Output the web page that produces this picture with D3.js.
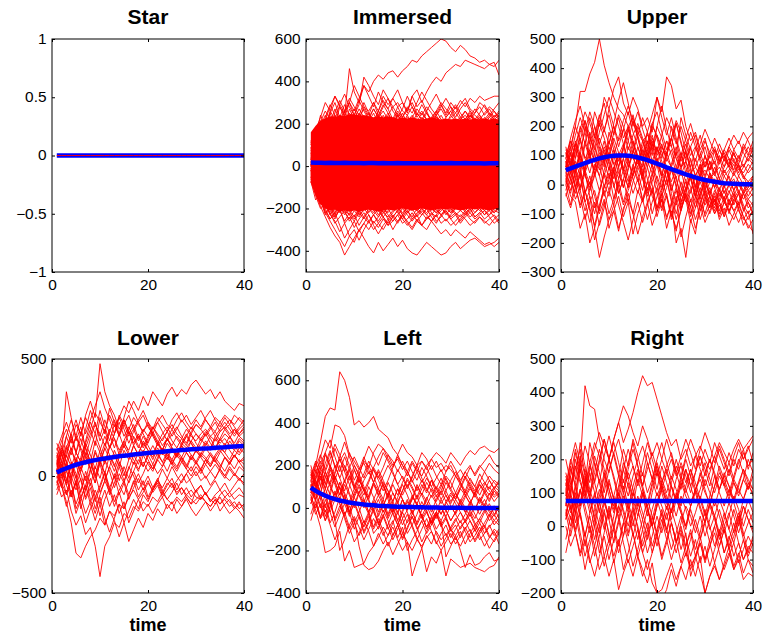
<!DOCTYPE html>
<html>
<head>
<meta charset="utf-8">
<script src="https://cdn.jsdelivr.net/npm/d3@7"></script>
<style>
  body { margin: 0; background: #fff; }
  text { font-family: "Liberation Sans", Arial, Helvetica, sans-serif; }
</style>
</head>
<body>
<div id="chart"></div>
<script>
// time steps
const time = [1,2,3,4,5,6,7,8,9,10,11,12,13,14,15,16,17,18,19,20,21,22,23,24,25,26,27,28,29,30,31,32,33,34,35,36,37,38,39,40]
const xTicks = [0, 20, 40]

const starTicks = [-1, -0.5, 0, 0.5, 1]
const immersedTicks = [-400, -200, 0, 200, 400, 600]
const upperTicks = [-300, -200, -100, 0, 100, 200, 300, 400, 500]
const lowerTicks = [-500, 0, 500]
const leftTicks = [-400, -200, 0, 200, 400, 600]
const rightTicks = [-200, -100, 0, 100, 200, 300, 400, 500]

// blue mean curves
const starMean = [0,0,0,0,0,0,0,0,0,0,0,0,0,0,0,0,0,0,0,0,0,0,0,0,0,0,0,0,0,0,0,0,0,0,0,0,0,0,0,0]
const immersedMean = [17,16,16,15,16,15,15,16,15,15,15,14,15,15,14,15,14,14,15,14,14,14,13,14,14,13,14,13,13,14,13,13,14,13,13,13,12,13,13,13]
const upperMean = [50,56,62,68,74,80,85,90,94,97,99,100,100,99,97,93,89,84,78,72,66,59,53,47,41,35,30,25,20,16,13,10,7,5,4,3,2,1,1,0]
const lowerMean = [15,25,33,41,48,54,59,64,68,72,75,78,81,84,87,89,92,94,96,98,100,102,104,106,108,109,111,112,114,115,117,118,119,121,122,123,125,126,127,128]
const leftMean = [95,80,68,57,48,41,35,30,25,22,19,16,14,12,10,9,8,7,6,5,4,4,3,3,2,2,2,1,1,1,1,1,0,0,0,0,0,0,0,0]
const rightMean = [75,75,75,75,75,75,75,75,75,75,75,75,75,75,75,75,75,75,75,75,75,75,75,75,75,75,75,75,75,75,75,75,75,75,75,75,75,75,75,75]

// red trajectories
const starRed = [
  [0,0,0,0,0,0,0,0,0,0,0,0,0,0,0,0,0,0,0,0,0,0,0,0,0,0,0,0,0,0,0,0,0,0,0,0,0,0,0,0]
]

// saturated middle of the Immersed bundle
const immersedCoreLow = [-80,-140,-180,-200,-210,-205,-215,-210,-215,-210,-215,-210,-205,-210,-215,-210,-205,-210,-205,-200,-205,-210,-205,-200,-205,-210,-205,-200,-205,-200,-205,-210,-205,-200,-205,-200,-205,-210,-205,-200]
const immersedCoreHigh = [160,190,215,225,235,230,240,235,245,245,240,240,235,230,235,230,235,230,225,230,225,230,225,220,225,230,225,220,225,220,225,220,225,220,225,220,225,220,225,220]
const immersedRed = [
  [40,120,200,150,250,190,280,230,300,260,320,380,350,400,430,410,440,450,420,450,470,500,490,520,540,560,580,600,590,560,540,570,550,520,510,490,500,480,490,430],
  [60,20,100,180,120,200,160,240,200,150,220,280,240,300,260,330,290,320,280,300,250,330,360,300,350,390,420,400,440,460,480,470,500,490,480,470,460,480,470,500],
  [100,170,230,300,260,330,280,240,460,350,300,380,330,280,350,300,270,320,360,300,260,330,280,310,260,300,340,290,250,300,270,310,280,320,300,330,310,320,330,330],
  [20,80,150,210,170,250,310,260,320,280,240,300,250,200,260,310,270,220,280,230,270,300,250,220,260,210,250,290,240,280,230,270,300,260,220,250,290,250,230,260],
  [80,140,110,190,260,220,290,340,280,240,310,260,220,270,230,280,320,260,230,270,330,280,240,290,250,220,260,300,270,240,280,230,260,220,250,280,240,270,230,250],
  [30,100,160,220,280,330,290,250,300,380,330,280,260,300,240,290,250,210,260,230,280,250,300,350,310,270,240,280,320,280,250,290,320,270,250,300,280,240,270,300],
  [60,130,190,240,200,270,220,260,300,240,290,420,380,330,290,360,320,280,300,260,240,280,230,260,220,200,240,270,230,260,290,250,220,260,240,220,250,280,260,230],
  [90,40,130,200,150,230,180,210,250,220,270,230,250,210,260,220,250,200,240,210,230,200,250,220,190,230,260,220,200,240,210,230,200,240,220,190,230,210,240,220],
  [50,120,180,150,230,190,240,210,180,230,200,170,220,190,230,200,170,210,180,220,190,160,200,230,200,170,210,190,160,200,220,190,210,180,200,220,190,210,180,200],
  [70,150,210,260,220,170,230,290,240,190,250,200,160,220,180,240,200,160,210,250,200,170,220,190,150,200,240,200,160,210,180,220,190,150,200,230,190,160,200,180],
  [110,180,140,230,290,240,200,260,210,170,230,270,230,190,240,200,240,280,240,200,240,200,170,210,250,210,230,190,230,260,220,180,220,250,210,240,200,230,260,220],
  [30,130,240,190,250,300,230,180,230,270,220,180,230,190,230,260,220,190,220,180,210,240,210,250,220,190,230,210,180,220,190,170,210,240,210,180,220,250,220,190],
  [120,90,170,220,180,240,200,170,210,180,220,190,230,270,230,200,230,190,250,220,190,230,270,240,280,250,210,240,200,230,250,220,260,230,270,240,210,240,220,240],
  [0,100,190,160,210,180,230,190,270,220,200,240,210,250,200,170,220,190,240,210,190,210,180,210,170,200,180,210,190,170,200,220,240,210,190,220,200,230,210,190],
  [-40,-100,-160,-220,-260,-300,-340,-380,-330,-360,-300,-340,-380,-410,-360,-400,-370,-340,-380,-350,-390,-410,-420,-390,-360,-380,-400,-420,-410,-380,-360,-390,-370,-350,-340,-360,-380,-370,-360,-340],
  [-60,-130,-190,-240,-290,-330,-360,-420,-380,-340,-300,-270,-300,-260,-290,-250,-280,-240,-270,-230,-260,-290,-250,-280,-300,-260,-290,-320,-300,-330,-300,-320,-340,-310,-330,-350,-370,-360,-380,-360],
  [-20,-80,-130,-200,-250,-220,-280,-340,-300,-260,-310,-270,-230,-280,-320,-280,-250,-300,-260,-230,-270,-300,-260,-280,-240,-260,-230,-270,-250,-280,-260,-230,-250,-280,-260,-240,-270,-250,-230,-260],
  [0,-60,-120,-180,-230,-260,-310,-270,-330,-300,-350,-300,-260,-300,-270,-240,-280,-260,-230,-270,-250,-220,-260,-230,-200,-240,-270,-230,-210,-250,-230,-270,-240,-220,-250,-230,-210,-240,-270,-250],
  [-50,-100,-180,-150,-210,-250,-200,-270,-240,-290,-250,-220,-260,-230,-270,-300,-260,-230,-260,-240,-210,-250,-230,-280,-250,-220,-260,-240,-210,-240,-220,-260,-230,-200,-240,-220,-250,-230,-210,-220],
  [-30,-110,-160,-230,-190,-240,-210,-260,-220,-250,-210,-240,-200,-230,-260,-220,-200,-240,-210,-190,-220,-200,-240,-210,-230,-200,-220,-190,-230,-200,-220,-240,-210,-190,-220,-200,-230,-200,-220,-200],
  [20,-60,-140,-200,-170,-230,-190,-220,-250,-210,-240,-200,-230,-270,-240,-210,-250,-220,-190,-230,-210,-240,-200,-220,-250,-230,-200,-230,-260,-230,-200,-180,-220,-200,-240,-220,-190,-210,-240,-270],
  [-80,-40,-120,-180,-220,-270,-240,-210,-260,-230,-280,-240,-270,-230,-200,-240,-270,-240,-210,-250,-280,-250,-220,-200,-230,-260,-230,-200,-220,-250,-280,-250,-220,-250,-270,-240,-260,-280,-250,-230],
  [-20,-90,-150,-190,-170,-210,-180,-200,-230,-190,-210,-180,-200,-220,-190,-170,-200,-180,-210,-190,-170,-190,-210,-180,-160,-190,-170,-200,-180,-160,-190,-170,-190,-200,-170,-190,-180,-160,-190,-170],
  [-50,-140,-200,-170,-230,-190,-220,-180,-210,-240,-200,-180,-220,-190,-210,-240,-210,-180,-200,-230,-190,-210,-180,-200,-220,-190,-170,-200,-180,-210,-190,-170,-200,-220,-190,-210,-180,-200,-220,-190],
  [-10,-120,-180,-150,-190,-220,-190,-230,-200,-180,-220,-190,-170,-200,-180,-220,-240,-210,-190,-220,-200,-180,-210,-190,-170,-200,-220,-200,-180,-200,-230,-210,-190,-170,-200,-180,-210,-190,-170,-190],
  [-70,-160,-130,-220,-200,-240,-200,-180,-210,-190,-230,-210,-180,-210,-240,-200,-220,-190,-220,-250,-220,-190,-210,-230,-200,-180,-210,-230,-200,-220,-190,-210,-230,-210,-180,-200,-230,-210,-190,-210],
  [10,-90,-170,-210,-250,-220,-180,-210,-230,-260,-220,-250,-210,-190,-230,-200,-230,-260,-230,-200,-230,-260,-230,-200,-180,-220,-240,-210,-190,-220,-200,-180,-210,-240,-220,-190,-210,-230,-200,-180]
]

const upperRed = [
  [60,120,200,320,320,380,420,500,410,350,300,260,240,200,230,180,150,170,140,120,100,150,130,90,60,80,40,60,30,50,20,40,60,30,50,80,60,40,70,50],
  [20,-40,-60,-150,-100,-200,-150,-250,-180,-120,-90,-160,-80,-50,-100,-20,-60,10,-40,-80,-30,-120,-60,-200,-150,-250,-120,-170,-60,-100,-40,-80,-30,-60,-90,-50,-70,-110,-140,-160],
  [100,150,90,180,220,140,250,200,300,260,330,370,280,240,300,260,200,230,180,300,250,370,340,260,290,200,150,180,120,160,90,120,80,100,60,90,50,70,40,60],
  [50,80,20,60,-30,10,-80,-20,40,0,60,100,50,130,90,60,120,80,40,90,20,60,-20,30,-60,-10,40,0,-50,20,-30,10,-40,-10,30,-20,10,-30,-10,20],
  [130,60,150,100,200,160,120,220,180,260,200,150,190,120,170,210,160,120,170,100,140,80,120,60,110,40,90,30,60,-10,40,10,-20,30,0,20,-30,10,-20,0],
  [0,-70,20,-40,-120,-60,-20,-90,0,-40,50,-30,20,-60,10,60,20,-30,30,90,40,0,60,20,-40,10,-30,30,-60,-20,-80,-40,-100,-60,-90,-120,-80,-140,-110,-90],
  [80,40,110,160,90,120,200,140,80,130,70,100,140,60,110,200,150,90,140,70,130,100,200,150,80,120,180,130,90,60,110,70,120,90,130,100,80,140,110,90],
  [30,90,60,-10,50,110,30,80,130,90,160,110,50,90,20,-30,40,-60,-20,-110,-50,-150,-90,-160,-80,-30,-100,-40,-120,-60,-20,-70,-10,-50,0,-40,-80,-30,-60,-100],
  [60,100,170,230,180,250,200,140,190,240,170,230,160,200,120,80,150,100,200,170,130,90,60,110,50,-20,30,90,40,100,50,80,20,60,90,40,70,30,10,-20],
  [-40,20,-30,40,-60,-130,-60,-140,-80,-20,-70,0,50,-10,40,90,30,110,60,130,80,20,70,130,60,110,50,-10,40,-40,10,60,20,-10,40,70,30,60,100,80],
  [90,130,60,110,50,0,70,30,-40,20,60,-10,-70,-20,30,100,50,-20,40,-30,-90,-40,-120,-60,10,-50,-130,-80,-30,-110,-70,-20,-60,-100,-50,-90,-60,-20,-50,-30],
  [40,0,80,30,140,90,170,240,190,140,210,290,350,280,200,250,190,140,210,250,180,120,160,210,140,90,130,170,110,60,100,130,80,110,70,120,90,130,100,150],
  [110,60,-10,30,-60,-20,40,-20,30,90,40,-30,20,80,150,100,60,130,210,160,90,150,100,40,90,140,80,30,70,-20,30,-10,20,-30,0,40,10,-20,10,30],
  [20,60,0,-80,-30,30,-40,-100,-50,-150,-90,-40,-110,-60,-170,-100,-50,-120,-60,-10,-80,-30,-110,-40,-180,-110,-50,-120,-70,-130,-90,-50,-120,-80,-140,-100,-60,-110,-150,-120],
  [70,150,120,200,140,230,170,120,70,140,200,130,190,250,180,130,80,150,100,200,270,190,130,210,150,80,130,60,100,150,110,160,120,80,130,170,140,180,150,110],
  [10,-30,50,100,40,-20,30,90,150,80,20,100,40,-10,60,130,80,20,-30,30,-20,50,0,-70,-20,40,-10,-80,-30,20,-40,-90,-50,0,-60,-20,-70,-30,-80,-60],
  [50,110,30,-20,-90,-40,-150,-80,-20,-100,-50,10,-60,0,60,10,70,120,60,0,-60,-10,50,0,-90,-30,30,-40,-70,-20,-60,-100,-60,-110,-70,-30,-90,-120,-90,-170],
  [90,40,140,80,30,-10,60,110,60,180,120,60,120,180,240,170,110,60,130,200,160,100,160,100,230,170,120,80,140,190,150,110,70,120,90,50,100,60,90,70],
  [70,20,-50,-10,60,120,80,30,90,150,100,40,-10,50,110,170,230,180,120,170,110,60,10,60,-10,-60,-20,30,-30,10,-40,20,-20,-60,-30,10,-20,-50,-20,-40],
  [10,70,140,190,250,210,160,230,280,200,140,80,130,190,140,90,40,100,160,110,170,230,190,140,200,150,100,130,80,30,80,40,100,60,120,80,40,90,130,100],
  [-20,40,-10,-70,-20,-90,-190,-130,-60,-120,-70,-150,-90,-30,-100,-170,-110,-60,-140,-90,-50,-110,-70,-20,-80,-40,-110,-60,-10,-70,-40,-100,-70,-110,-60,-90,-130,-90,-60,-100],
  [120,80,40,120,180,100,50,130,80,20,100,160,220,270,220,160,100,180,120,70,30,110,60,-10,50,120,60,-20,40,100,50,120,90,40,70,110,60,20,50,80],
  [60,130,200,150,90,40,110,180,240,300,250,200,140,80,30,90,20,-40,10,70,-10,60,-20,40,100,60,20,-40,30,-20,40,-10,-60,-20,-70,-40,0,-30,10,-10],
  [30,-20,40,100,50,180,130,70,-10,40,-50,20,90,150,100,40,-20,60,0,-80,-20,50,-30,-100,-40,20,-60,-10,70,20,80,40,0,50,20,-20,30,0,-40,-10],
  [90,160,220,270,200,140,80,160,110,50,120,60,-10,60,120,70,130,180,240,300,230,170,230,160,100,160,210,150,90,130,70,30,80,120,160,120,150,110,80,130],
  [-30,-80,-10,50,-20,-80,-140,-70,-10,60,0,-70,-130,-190,-120,-60,-130,-70,-10,-90,-40,20,-50,-120,-60,-10,-80,-150,-90,-40,-100,-50,-110,-60,-20,-70,-30,-90,-50,-70],
  [110,70,140,90,40,90,150,210,160,100,180,240,200,150,220,160,90,150,80,130,60,110,160,220,180,110,60,120,170,100,50,90,140,100,60,110,70,120,160,180],
  [40,110,50,-20,40,-40,-100,-30,50,110,70,20,90,30,-30,20,-50,10,70,20,-40,20,-60,-10,-70,-20,30,-40,10,-40,-80,-30,-90,-40,-100,-50,-20,-70,-100,-70],
  [80,20,90,150,220,170,100,50,120,70,-10,60,130,200,150,80,20,80,150,90,30,100,160,90,30,80,20,-40,20,80,40,-10,40,90,60,30,70,30,-10,30],
  [0,60,120,70,150,100,40,100,30,-20,50,110,60,10,70,20,-60,-10,-100,-40,20,-40,-100,-150,-90,-30,-80,-20,-90,-50,-10,-60,-20,-50,-90,-60,-30,-80,-120,-90]
]

const lowerRed = [
  [50,120,80,180,240,170,260,320,250,480,360,300,260,200,240,180,220,160,200,170,210,180,150,190,220,180,160,200,170,150,180,200,170,150,190,210,180,200,170,190],
  [-20,-90,-60,-150,-210,-170,-250,-220,-300,-430,-300,-260,-200,-220,-160,-180,-130,-150,-110,-130,-90,-110,-70,-100,-120,-90,-110,-80,-100,-120,-90,-110,-130,-100,-120,-90,-110,-140,-120,-130],
  [30,-40,-110,-200,-330,-350,-300,-260,-230,-180,-210,-150,-170,-120,-140,-90,-60,-100,-70,-30,-60,-20,-50,-10,-40,-70,-50,-80,-60,-90,-100,-70,-110,-90,-120,-100,-130,-110,-140,-120],
  [80,150,200,140,220,180,250,200,270,230,190,260,210,250,300,270,320,280,340,300,360,330,300,350,380,340,370,350,390,410,380,350,370,330,360,320,300,280,310,300],
  [20,90,360,250,150,210,120,180,230,150,200,120,160,90,140,110,170,130,100,150,180,140,110,160,130,170,140,120,150,180,160,130,170,190,150,180,160,200,170,150],
  [0,-50,30,-90,-20,-140,-60,-10,-90,-40,20,-50,0,-80,-30,-100,-50,-10,-60,-20,-70,-40,-90,-60,-30,-80,-50,-90,-120,-100,-80,-110,-130,-100,-150,-120,-100,-130,-150,-180],
  [40,100,20,-20,80,30,120,60,150,100,50,130,90,40,110,70,130,90,150,110,80,140,100,70,120,90,60,100,70,110,80,50,90,60,40,80,60,30,70,50],
  [100,40,120,180,100,60,140,200,130,250,180,290,230,170,220,260,200,240,280,230,200,250,220,190,240,270,230,260,220,250,280,240,210,250,230,260,240,220,250,230],
  [-60,10,-80,-20,-140,-90,-160,-110,-60,-120,-210,-150,-190,-260,-200,-280,-230,-180,-220,-160,-190,-140,-170,-120,-150,-100,-130,-90,-120,-60,-100,-70,-110,-80,-60,-90,-70,-100,-80,-90],
  [60,0,90,40,-40,20,80,30,-30,60,10,90,50,-20,40,-10,60,20,90,50,20,70,40,100,60,30,80,50,20,60,30,70,40,80,50,20,60,90,60,70],
  [120,60,170,110,60,130,200,280,220,170,240,180,120,180,250,320,280,230,260,210,180,230,260,220,200,240,270,230,200,240,210,250,280,240,210,250,220,260,240,220],
  [-30,30,-40,60,10,-70,20,-40,40,-10,70,20,-50,10,-30,40,0,-60,-20,-90,-50,-10,-60,-100,-70,-30,-80,-50,-90,-60,-40,-80,-100,-120,-80,-60,-90,-70,-50,-80],
  [10,70,130,90,170,120,80,160,220,180,130,200,160,110,150,200,250,220,190,220,170,130,160,190,150,120,160,130,180,140,110,150,120,170,140,160,130,110,150,130],
  [70,20,-30,50,-10,-90,-40,30,-30,60,120,70,20,80,130,90,50,100,140,110,70,120,90,140,110,80,130,100,150,120,90,140,110,160,130,100,150,120,160,140],
  [-80,-20,50,-30,-120,-60,0,-100,-160,-90,-180,-240,-180,-120,-200,-150,-100,-140,-80,-110,-60,-20,-70,-30,-50,-20,10,-30,-10,20,-20,0,-40,-10,30,0,-20,10,-10,-30],
  [140,90,40,110,170,250,180,240,300,360,290,240,180,260,220,170,200,150,190,230,180,140,180,210,170,200,240,210,180,220,200,240,210,190,230,200,220,180,210,240],
  [30,-30,-80,10,70,20,100,60,0,80,140,90,40,100,150,100,70,30,60,20,50,10,40,80,50,20,60,30,0,40,10,50,20,-10,30,0,40,10,-20,10],
  [50,110,60,0,-60,-10,-100,-50,-140,-80,-20,-70,10,-40,-80,-20,20,-30,10,60,30,70,110,80,50,90,130,100,70,110,80,120,90,60,100,140,110,80,120,100],
  [10,60,-20,40,100,60,140,90,30,110,170,120,180,230,170,210,160,120,170,130,90,140,110,160,120,90,140,180,140,110,160,190,160,120,160,200,170,140,180,200],
  [90,30,-40,-90,-30,-120,-200,-140,-90,-170,-100,-50,-110,-60,-20,-80,-30,10,-40,0,-50,-20,30,-10,40,0,-30,10,40,0,30,-10,20,50,20,-10,30,0,40,20],
  [-40,40,120,60,-10,80,150,230,180,280,210,150,220,170,240,190,140,180,130,170,210,170,130,160,200,160,130,170,210,180,150,180,210,170,200,230,200,170,200,220],
  [60,130,60,-10,70,10,-60,20,100,50,-20,40,110,60,0,70,130,90,40,90,50,100,60,20,70,110,80,40,90,60,20,70,100,70,30,80,50,90,60,30],
  [20,-40,-130,-60,-160,-100,-40,-120,-190,-120,-60,-130,-80,-160,-110,-200,-150,-100,-150,-120,-160,-120,-90,-140,-110,-160,-130,-100,-140,-170,-140,-110,-150,-120,-90,-130,-160,-140,-110,-150],
  [110,170,230,170,100,160,90,30,110,50,120,190,240,180,120,190,130,170,120,160,200,230,190,150,180,210,170,140,190,220,200,170,200,230,190,210,240,210,180,210],
  [-10,50,-10,-80,-20,40,-20,70,10,-70,-20,40,-10,60,20,-30,20,70,40,90,130,90,60,100,70,40,80,120,90,60,100,80,50,90,120,100,70,110,90,120],
  [80,20,100,160,100,190,120,60,-10,70,10,-80,-30,40,-20,30,90,50,110,70,30,80,120,90,50,100,70,30,80,50,90,70,40,80,110,80,50,90,60,80],
  [30,100,170,240,170,110,50,110,180,120,60,120,180,250,200,140,190,230,180,140,190,150,110,160,120,80,130,170,140,100,140,180,140,110,160,130,170,130,100,140],
  [50,-10,60,120,50,-20,-90,-30,-110,-50,10,-60,-130,-70,-140,-80,-20,-90,-50,-100,-60,-30,-80,-40,-10,-60,-20,10,-30,-70,-40,-80,-50,-20,-60,-30,-70,-40,-10,-40]
]

const leftRed = [
  [120,200,310,430,470,460,640,600,520,390,410,380,400,430,370,350,330,280,250,300,260,240,200,220,180,230,190,210,170,200,150,180,140,190,160,200,170,210,180,160],
  [80,150,240,320,280,390,380,340,250,220,180,210,160,190,240,280,230,190,250,200,170,220,180,150,200,230,260,240,210,260,230,200,240,270,250,280,290,270,260,280],
  [60,-10,-90,-210,-200,-180,-110,-250,-200,-280,-270,-260,-210,-180,-120,-170,-130,-90,-150,-200,-160,-320,-250,-190,-300,-230,-260,-200,-320,-240,-260,-280,-270,-260,-280,-290,-300,-280,-270,-230],
  [100,40,150,90,180,120,60,130,70,10,80,20,100,50,-20,40,-30,30,90,40,-10,50,20,-40,10,60,20,-30,30,70,40,0,50,90,60,20,70,100,60,80],
  [150,220,130,210,270,190,230,170,260,200,150,230,290,250,200,260,220,170,110,150,100,140,200,260,230,180,220,170,200,180,150,120,170,130,100,160,120,90,130,110],
  [-30,40,-40,20,-70,-20,50,-30,10,-70,-20,40,-20,-90,-30,20,-50,0,-60,-120,-60,-10,-80,-30,-100,-60,-20,-80,-40,-100,-130,-90,-60,-110,-150,-110,-80,-130,-160,-120],
  [90,130,70,170,110,40,120,60,-20,50,0,-70,-20,40,90,40,120,70,20,80,140,100,50,110,70,130,90,40,80,30,70,20,60,100,50,90,120,80,50,70],
  [200,110,40,-40,30,-60,-10,60,-20,-100,-40,-120,-70,-10,-80,-30,-90,-150,-100,-50,-120,-80,-140,-190,-130,-170,-110,-150,-120,-170,-140,-180,-130,-100,-160,-120,-90,-140,-110,-170],
  [40,100,170,110,190,280,220,260,200,130,180,240,180,120,170,110,60,120,180,140,90,150,200,140,80,130,70,110,60,20,70,30,80,40,-10,50,10,70,30,60],
  [110,60,0,60,-20,40,100,40,-30,20,-40,-110,-60,0,-70,-130,-80,-20,-80,-20,30,-30,20,-50,-10,-80,-40,10,-50,-100,-60,-20,-70,-30,-80,-50,-10,-60,-30,-70],
  [70,180,100,260,190,130,200,120,180,90,150,80,40,110,60,10,60,-20,30,-50,-10,60,10,-40,-90,-40,-100,-60,-10,-60,-20,30,-20,-60,-100,-50,-90,-40,0,-50],
  [130,70,190,120,60,150,90,30,100,180,130,90,40,-20,-70,-10,-60,-130,-80,-150,-100,-40,-90,-160,-110,-60,-120,-180,-140,-100,-150,-110,-170,-120,-80,-130,-180,-140,-100,-120],
  [20,90,150,60,120,200,140,80,150,100,160,220,190,260,300,280,250,200,230,180,220,170,130,190,150,100,140,180,130,90,150,110,70,120,80,130,90,60,100,80],
  [160,100,40,90,30,-50,10,-40,-100,-50,-180,-270,-290,-280,-250,-200,-160,-220,-170,-120,-160,-200,-150,-180,-140,-110,-160,-200,-160,-120,-170,-130,-90,-140,-100,-150,-120,-80,-130,-100],
  [90,140,200,150,100,60,120,70,20,70,130,80,30,-10,40,-20,20,70,30,80,130,90,40,90,140,100,60,20,60,10,-30,20,-20,30,-10,40,0,-40,10,-20],
  [-60,20,-50,40,-20,-90,-30,20,-40,30,-30,-90,-40,-120,-90,-40,-100,-60,-140,-90,-200,-150,-110,-60,-120,-80,-30,-90,-50,-110,-80,-140,-100,-60,-110,-70,-120,-90,-60,-80],
  [100,170,220,170,110,170,240,310,240,180,120,160,220,180,130,80,130,190,240,200,150,210,170,120,160,200,150,110,170,220,180,130,170,200,150,190,220,250,210,190],
  [50,0,60,-20,40,-60,-200,-150,-80,-40,-90,-150,-100,-50,-100,-40,20,-30,-80,-20,-70,-30,20,-40,-90,-50,-20,-60,-230,-180,-130,-200,-280,-220,-270,-260,-230,-210,-250,-240],
  [130,190,250,180,260,200,140,200,150,90,140,80,130,190,150,100,50,110,60,120,170,130,80,130,90,50,100,60,120,80,40,90,60,20,70,110,80,40,90,60],
  [40,-30,20,-60,10,80,20,-50,-120,-70,-130,-80,-30,-100,-50,-110,-180,-130,-80,-140,-90,-40,-100,-60,-20,-70,-30,-80,-130,-90,-50,-100,-60,-20,-70,-110,-70,-30,-80,-50],
  [170,100,180,250,200,130,60,130,190,240,190,140,200,150,90,150,200,160,110,60,110,60,20,70,30,-20,40,80,30,-10,40,90,140,100,60,110,70,30,80,50],
  [60,120,60,0,80,160,230,170,110,50,100,40,-20,30,-40,10,70,10,-60,-10,40,-20,-70,-10,50,0,-50,0,-40,10,-30,-70,-30,20,-30,-70,-20,20,-30,0],
  [110,40,100,170,230,300,250,190,130,200,160,100,50,120,180,130,80,30,90,40,-10,40,100,60,120,80,30,80,140,90,50,100,150,110,70,120,170,130,90,120],
  [20,80,10,-60,0,70,20,-40,30,90,60,0,60,120,80,20,-40,20,-30,40,-20,-80,-30,30,-20,-70,-20,40,-10,-60,-20,40,0,-40,10,-30,20,-20,-60,-30],
  [180,130,70,140,200,150,90,40,-20,60,110,60,120,180,140,190,250,220,170,220,170,120,170,220,190,140,90,140,80,130,170,120,80,140,100,60,110,150,120,90],
  [90,30,-50,-10,-80,-150,-90,-20,-90,-160,-120,-60,-110,-180,-140,-90,-130,-70,-20,-80,-30,-90,-150,-100,-50,-110,-170,-120,-80,-140,-100,-60,-110,-160,-130,-90,-140,-190,-150,-110],
  [140,210,160,90,160,110,40,110,60,0,70,130,170,120,60,110,40,-20,50,110,60,0,60,-10,40,90,50,100,150,120,70,120,60,20,70,30,80,130,90,130],
  [70,130,210,260,320,240,170,240,180,110,60,20,-30,10,60,120,80,30,-20,40,-10,40,110,60,10,-40,10,-30,20,60,20,-20,-60,-10,-50,0,40,-10,-40,10]
]

const rightRed = [
  [90,150,60,180,420,360,350,260,200,160,220,260,200,140,180,120,160,100,140,90,130,170,120,80,130,90,60,110,140,100,70,120,160,130,90,140,110,80,120,100],
  [60,120,180,130,90,170,230,280,240,200,260,310,250,290,340,400,450,420,430,380,330,280,240,260,200,230,180,210,240,200,170,210,250,220,190,230,260,230,250,270],
  [0,-60,-20,-90,-40,-110,-60,-130,-90,-150,-100,-190,-140,-100,-150,-90,-130,-170,-110,-200,-190,-150,-110,-160,-120,-80,-130,-90,-140,-200,-150,-110,-160,-120,-80,-130,-100,-160,-140,-150],
  [120,200,140,250,180,130,210,160,100,170,220,160,110,170,230,180,120,190,140,200,250,190,140,200,150,210,260,220,180,230,190,250,210,170,220,180,230,200,240,190],
  [50,0,80,30,-30,40,100,50,-10,60,0,-60,10,70,20,-40,20,80,30,-20,40,-10,50,90,40,0,60,100,50,10,60,20,-30,20,70,30,-20,30,80,40],
  [200,130,60,110,40,-20,50,110,70,20,90,150,100,50,120,170,120,70,130,180,140,100,150,110,60,120,170,130,80,140,100,60,110,150,120,80,130,170,140,110],
  [-80,-10,60,-20,-90,-40,20,-50,-120,-60,-10,-80,-30,40,-20,-90,-40,10,-60,-10,50,-10,-70,-20,30,-30,-90,-40,-110,-60,-120,-70,-20,-80,-30,-90,-50,-100,-60,-80],
  [140,90,200,140,80,160,100,40,120,200,150,90,170,120,60,140,90,30,100,160,100,50,120,70,140,200,150,100,160,110,60,120,180,140,100,150,200,160,110,170],
  [30,100,40,-40,-130,-60,0,-80,-20,50,-10,60,120,60,0,70,20,-40,20,80,30,-20,50,0,-70,-20,-150,-100,-50,-110,-60,0,50,0,-60,-10,40,-20,-80,-30],
  [100,170,120,60,130,80,20,90,160,110,50,100,40,-20,50,0,-60,-10,-80,-30,20,-40,-100,-50,0,-60,-20,-90,-40,10,-50,-110,-60,-10,-70,-130,-90,-40,-100,-140],
  [70,20,130,190,120,250,190,130,210,270,210,150,230,180,260,210,150,220,170,110,180,130,80,140,190,150,100,160,210,170,120,180,230,190,150,200,170,220,180,200],
  [40,90,10,70,150,90,30,-20,50,-30,-90,-40,-130,-80,-20,-90,-150,-100,-170,-200,-220,-190,-130,-180,-120,-160,-100,-150,-90,-200,-150,-120,-160,-110,-60,-120,-80,-140,-100,-120],
  [160,100,220,160,240,190,130,190,260,200,260,310,360,330,280,240,300,260,210,250,200,160,200,150,180,130,170,110,150,190,140,100,150,120,80,130,100,140,110,150],
  [20,60,-10,50,110,60,0,70,10,-50,0,60,20,-30,30,90,40,-10,50,100,60,20,80,30,90,50,0,40,90,40,-10,30,-40,0,40,-20,30,-30,10,40],
  [110,50,110,170,100,40,90,140,80,30,90,40,100,160,110,60,110,50,0,60,120,80,40,90,150,110,70,110,60,10,70,30,80,40,-10,50,0,60,20,-20],
  [80,150,230,170,110,180,130,70,150,90,40,110,170,230,180,130,190,250,200,150,200,260,210,160,210,260,220,170,230,280,240,190,240,200,160,210,250,200,230,260],
  [130,60,-20,40,-60,0,-90,-30,40,-20,-110,-50,10,-50,-120,-70,-10,-80,-30,30,-20,40,-30,-80,-20,-90,-40,20,-30,-100,-60,-20,-80,-130,-90,-50,-110,-70,-30,-60],
  [20,110,170,230,160,100,160,230,170,110,60,120,190,140,90,160,110,60,120,170,120,70,130,180,140,100,150,210,170,120,160,210,170,120,170,130,90,140,200,160],
  [100,40,100,40,-30,30,-40,20,80,20,-50,10,70,130,80,30,100,50,0,60,110,70,20,80,40,-10,50,0,-40,20,70,30,-20,40,-10,-50,10,60,20,-10],
  [60,180,120,60,140,80,190,130,70,140,80,20,90,40,-30,30,100,60,0,70,130,90,40,100,50,0,60,110,80,30,90,150,100,60,110,70,20,80,130,90],
  [-40,30,-20,-80,-20,-100,-150,-90,-30,-100,-40,20,-50,-110,-60,-10,-80,-130,-80,-20,-90,-40,10,-50,-10,-70,-120,-90,-50,-100,-40,0,-60,-10,-70,-30,20,-40,-90,-50],
  [90,130,80,210,150,90,140,200,260,200,140,80,140,90,150,200,240,190,140,190,130,180,220,160,110,170,120,160,210,150,200,160,110,150,190,140,190,230,170,220],
  [150,90,40,100,170,110,60,0,70,130,80,30,-30,40,100,50,-10,50,0,-60,0,60,10,-50,10,60,30,-20,30,-30,20,80,30,-20,30,90,50,0,50,10],
  [40,-30,40,110,60,0,-60,0,-90,-40,30,100,50,0,60,-10,-80,-30,30,-30,-100,-50,10,-40,-110,-60,-10,-70,-20,50,0,-60,-10,-80,-40,10,-50,-100,-70,-40],
  [110,190,250,190,120,190,250,210,150,200,250,190,130,190,250,180,120,170,220,170,110,160,120,70,120,170,120,70,110,160,200,150,110,160,120,70,120,170,130,110]
]

const panels = [
  { title: "Star", domain: [-1, 1], ticks: starTicks, mean: starMean, red: starRed, redOnTop: true, col: 0, row: 0 },
  { title: "Immersed", domain: [-500, 600], ticks: immersedTicks, mean: immersedMean, red: immersedRed,
    core: [immersedCoreLow, immersedCoreHigh], col: 1, row: 0 },
  { title: "Upper", domain: [-300, 500], ticks: upperTicks, mean: upperMean, red: upperRed, col: 2, row: 0 },
  { title: "Lower", domain: [-500, 500], ticks: lowerTicks, mean: lowerMean, red: lowerRed, col: 0, row: 1, xlabel: "time" },
  { title: "Left", domain: [-400, 700], ticks: leftTicks, mean: leftMean, red: leftRed, col: 1, row: 1, xlabel: "time" },
  { title: "Right", domain: [-200, 500], ticks: rightTicks, mean: rightMean, red: rightRed, col: 2, row: 1, xlabel: "time" }
]

// layout (pixels)
const colX = [[52, 244], [306, 499], [561, 753]]
const rowY = [[39, 272], [359, 593]]
const tick = 3
const numStretch = 1.1

const svg = d3.select('#chart')
    .append('svg')
    .attr('width', 763)
    .attr('height', 637)
    .style('background', '#fff')

const fmt = v => d3.format('')(v).replace('-', '\u2212')

panels.forEach((p, k) => {
    const [x0, x1] = colX[p.col]
    const [y0, y1] = rowY[p.row]
    const w = x1 - x0, h = y1 - y0

    const x = d3.scaleLinear().domain([0, 40]).range([0, w])
    const y = d3.scaleLinear().domain(p.domain).range([h, 0])

    const g = svg.append('g').attr('transform', 'translate(' + x0 + ',' + y0 + ')')

    g.append('rect').attr('width', w).attr('height', h).attr('fill', '#fff')

    svg.append('clipPath').attr('id', 'clip' + k)
        .append('rect').attr('width', w).attr('height', h)

    const plot = g.append('g').attr('clip-path', 'url(#clip' + k + ')')
    const line = d3.line().x((d, i) => x(time[i])).y(d => y(d))

    const drawRed = () => {
        if (p.core) {
            const area = d3.area()
                .x(i => x(time[i]))
                .y0(i => y(p.core[0][i]))
                .y1(i => y(p.core[1][i]))
            plot.append('path')
                .datum(time.map((t, i) => i))
                .attr('d', area)
                .attr('fill', '#ff0000')
        }
        plot.selectAll('path.red')
            .data(p.red)
            .enter()
            .append('path')
            .attr('class', 'red')
            .attr('d', line)
            .attr('fill', 'none')
            .attr('stroke', '#ff0000')
            .attr('stroke-width', 0.9)
    }
    const drawBlue = () => {
        plot.append('path')
            .datum(p.mean)
            .attr('d', line)
            .attr('fill', 'none')
            .attr('stroke', '#0000ff')
            .attr('stroke-width', 4.5)
    }
    if (p.redOnTop) { drawBlue(); drawRed() } else { drawRed(); drawBlue() }

    // axes, ticks pointing inward on every side
    const bottom = g.append('g').attr('transform', 'translate(0,' + h + ')')
        .call(d3.axisBottom(x).tickValues(xTicks).tickSize(-tick).tickPadding(7).tickFormat(fmt))
    const left = g.append('g')
        .call(d3.axisLeft(y).tickValues(p.ticks).tickSize(-tick).tickPadding(6).tickFormat(fmt))
    g.append('g')
        .call(d3.axisTop(x).tickValues(xTicks).tickSize(-tick).tickFormat(''))
    g.append('g').attr('transform', 'translate(' + w + ',0)')
        .call(d3.axisRight(y).tickValues(p.ticks).tickSize(-tick).tickFormat(''))

    g.selectAll('.domain').remove()
    g.selectAll('.tick line').attr('stroke', '#000')

    bottom.selectAll('text')
        .attr('font-size', 14)
        .attr('fill', '#000')
        .attr('y', 8)
        .attr('transform', 'scale(' + numStretch + ',1)')
    left.selectAll('text')
        .attr('font-size', 14)
        .attr('fill', '#000')
        .attr('x', -5.5 / numStretch)
        .attr('transform', 'scale(' + numStretch + ',1)')

    g.append('rect')
        .attr('width', w).attr('height', h)
        .attr('fill', 'none')
        .attr('stroke', '#000')
        .attr('stroke-width', 1)

    g.append('text')
        .attr('x', w / 2)
        .attr('y', p.row === 0 ? -15 : -14)
        .attr('text-anchor', 'middle')
        .attr('font-size', 21)
        .attr('font-weight', 'bold')
        .text(p.title)

    if (p.xlabel) {
        g.append('text')
            .attr('x', w / 2)
            .attr('y', h + 38)
            .attr('text-anchor', 'middle')
            .attr('font-size', 18)
            .attr('font-weight', 'bold')
            .text(p.xlabel)
    }
})
</script>
</body>
</html>
